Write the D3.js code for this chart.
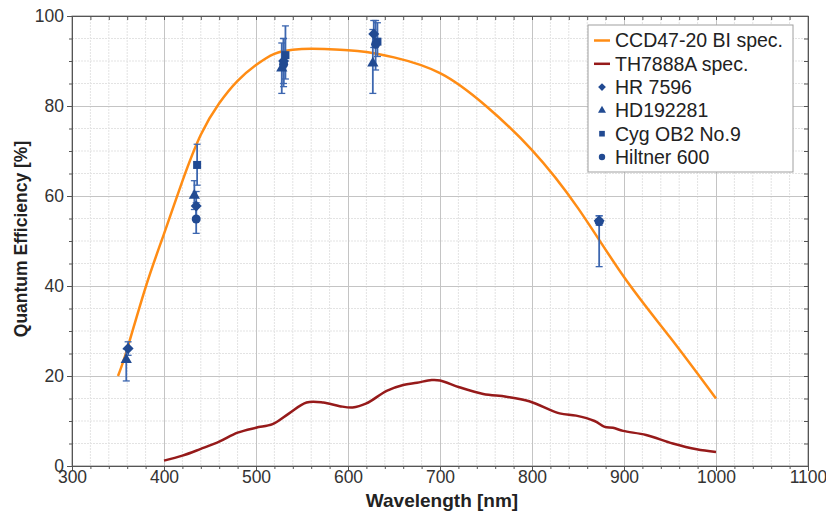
<!DOCTYPE html>
<html>
<head>
<meta charset="utf-8">
<script src="https://cdn.jsdelivr.net/npm/d3@7"></script>
<style>
  body { margin: 0; background: #fff; }
  svg { display: block; font-family: "Liberation Sans", Arial, sans-serif; }
</style>
</head>
<body>
<div id="chart"></div>
<script>
// CCD47-20 BI spectral response (nm, %)
const ccdWl = [350, 360, 380, 400, 420, 440, 460, 480, 500, 520, 540, 560, 580, 600, 620, 650, 700, 750, 800, 850, 900, 950, 1000];
const ccdQe = [20, 26, 39.7, 51.6, 63.3, 73.6, 80.6, 85.6, 89.1, 91.6, 92.5, 92.7, 92.6, 92.4, 92, 90.8, 87.3, 80, 70.2, 57.3, 42, 28.6, 15];

// TH7888A spectral response
const thWl = [400, 420, 440, 460, 480, 500, 518, 536, 555, 573, 591, 605, 620, 642, 660, 675, 691, 700, 721, 747, 772, 797, 830, 848, 868, 879, 888, 899, 924, 953, 979, 1000];
const thQe = [1.2, 2.3, 3.8, 5.4, 7.4, 8.5, 9.3, 11.7, 14.1, 14.1, 13.3, 13.0, 13.9, 16.7, 18.0, 18.5, 19.1, 19.0, 17.5, 16.0, 15.4, 14.4, 11.7, 11.2, 10.0, 8.7, 8.5, 7.8, 6.9, 5.0, 3.7, 3.1];

// measured stars: wavelength, QE, lower and upper error
const hrWl = [361, 435, 530, 628, 873];
const hrQe = [26.1, 57.8, 90.0, 96.0, 54.5];
const hrLo = [24.6, 54.8, 85.0, 93.0, 53.5];
const hrHi = [27.6, 61.0, 95.0, 99.0, 55.6];

const hdWl = [359, 433, 528, 627];
const hdQe = [23.6, 60.1, 88.4, 89.5];
const hdLo = [18.9, 57.0, 82.8, 82.8];
const hdHi = [26.0, 63.4, 94.0, 97.0];

const cygWl = [436, 532, 632];
const cygQe = [66.9, 91.3, 94.3];
const cygLo = [62.4, 86.0, 91.0];
const cygHi = [71.5, 97.8, 98.5];

const hilWl = [435, 530, 630, 873];
const hilQe = [54.9, 89.3, 93.7, 54.3];
const hilLo = [51.7, 84.3, 88.0, 44.3];
const hilHi = [58.5, 95.0, 99.0, 55.6];

const xTicks = [300, 400, 500, 600, 700, 800, 900, 1000, 1100];
const yTicks = [0, 20, 40, 60, 80, 100];

const W = 826, H = 514;
const margin = { top: 16, right: 18, bottom: 48, left: 72 };
const width = W - margin.left - margin.right;
const height = H - margin.top - margin.bottom;

const svg = d3.select("#chart").append("svg")
    .attr("width", W)
    .attr("height", H);

const chart = svg.append("g")
    .attr("transform", `translate(${margin.left},${margin.top})`);

const x = d3.scaleLinear().domain([300, 1100]).range([0, width]);
const y = d3.scaleLinear().domain([0, 100]).range([height, 0]);

// minor grid
chart.append("g")
    .selectAll("line")
    .data(d3.range(300, 1101, 20).filter(d => d % 100 !== 0))
    .join("line")
    .attr("x1", d => x(d)).attr("x2", d => x(d))
    .attr("y1", 0).attr("y2", height)
    .attr("stroke", "#e3e3e3")
    .attr("stroke-dasharray", "2,1");

chart.append("g")
    .selectAll("line")
    .data(d3.range(0, 101, 5).filter(d => d % 20 !== 0))
    .join("line")
    .attr("x1", 0).attr("x2", width)
    .attr("y1", d => y(d)).attr("y2", d => y(d))
    .attr("stroke", "#e3e3e3")
    .attr("stroke-dasharray", "2,1");

// major grid
chart.append("g")
    .call(d3.axisBottom(x).tickValues(xTicks).tickSize(height).tickFormat(""))
    .call(g => g.select(".domain").remove())
    .selectAll("line").attr("stroke", "#c4c4c4");

chart.append("g")
    .call(d3.axisLeft(y).tickValues(yTicks).tickSize(-width).tickFormat(""))
    .call(g => g.select(".domain").remove())
    .selectAll("line").attr("stroke", "#c4c4c4");

// frame
chart.append("rect")
    .attr("width", width).attr("height", height)
    .attr("fill", "none")
    .attr("stroke", "#8a8a8a");

// axes
const axisColor = "#555";
const styleAxis = g => {
    g.select(".domain").attr("stroke", axisColor);
    g.selectAll("line").attr("stroke", axisColor);
    g.selectAll("text").attr("fill", "#333").style("font-size", "17.5px");
};

chart.append("g")
    .attr("transform", `translate(0,${height})`)
    .call(d3.axisBottom(x).tickValues(d3.range(300, 1101, 20)).tickSize(3).tickFormat(""))
    .call(styleAxis);
chart.append("g")
    .attr("transform", `translate(0,${height})`)
    .call(d3.axisBottom(x).tickValues(xTicks).tickSize(5).tickPadding(0).tickFormat(d3.format("d")))
    .call(styleAxis);

chart.append("g")
    .call(d3.axisLeft(y).tickValues(d3.range(0, 101, 5)).tickSize(3).tickFormat(""))
    .call(styleAxis);
chart.append("g")
    .call(d3.axisLeft(y).tickValues(yTicks).tickSize(5).tickPadding(3))
    .call(styleAxis);

// inner ticks on top and right
chart.append("g")
    .call(d3.axisBottom(x).tickValues(d3.range(300, 1101, 20)).tickSize(4).tickFormat(""))
    .call(styleAxis);
chart.append("g")
    .attr("transform", `translate(${width},0)`)
    .call(d3.axisLeft(y).tickValues(d3.range(0, 101, 5)).tickSize(4).tickFormat(""))
    .call(styleAxis);

chart.append("text")
    .attr("x", width / 2 + 2)
    .attr("y", height + 41)
    .attr("text-anchor", "middle")
    .style("font-size", "19px")
    .style("font-weight", "bold")
    .attr("fill", "#222")
    .text("Wavelength [nm]");

chart.append("text")
    .attr("transform", "rotate(-90)")
    .attr("x", -height / 2 + 2)
    .attr("y", -45)
    .attr("text-anchor", "middle")
    .style("font-size", "17.5px")
    .style("font-weight", "bold")
    .attr("fill", "#222")
    .text("Quantum Efficiency [%]");

// curves
const line = d3.line()
    .x(d => x(d[0]))
    .y(d => y(d[1]))
    .curve(d3.curveNatural);

chart.append("path")
    .datum(d3.zip(thWl, thQe))
    .attr("d", line.curve(d3.curveCatmullRom))
    .attr("fill", "none")
    .attr("stroke", "#961a1a")
    .attr("stroke-width", 2.5);

chart.append("path")
    .datum(d3.zip(ccdWl, ccdQe))
    .attr("d", line.curve(d3.curveNatural))
    .attr("fill", "none")
    .attr("stroke", "#ff8c14")
    .attr("stroke-width", 2.5);

// stars
const markerColor = "#214a92";
const errColor = "#3d67b0";
const diamond = { draw(ctx, size) { const r = Math.sqrt(size / 2); ctx.moveTo(0, -r); ctx.lineTo(r, 0); ctx.lineTo(0, r); ctx.lineTo(-r, 0); ctx.closePath(); } };
const series = [
    { name: "HR 7596", sym: diamond, size: 60, wl: hrWl, qe: hrQe, lo: hrLo, hi: hrHi },
    { name: "HD192281", sym: d3.symbolTriangle, size: 55, wl: hdWl, qe: hdQe, lo: hdLo, hi: hdHi },
    { name: "Cyg OB2 No.9", sym: d3.symbolSquare, size: 64, wl: cygWl, qe: cygQe, lo: cygLo, hi: cygHi },
    { name: "Hiltner 600", sym: d3.symbolCircle, size: 64, wl: hilWl, qe: hilQe, lo: hilLo, hi: hilHi }
];

series.forEach(s => {
    const pts = s.wl.map((w, i) => ({ wl: w, qe: s.qe[i], lo: s.lo[i], hi: s.hi[i] }));
    const g = chart.append("g");
    g.selectAll("line.bar")
        .data(pts)
        .join("line")
        .attr("x1", d => x(d.wl)).attr("x2", d => x(d.wl))
        .attr("y1", d => y(d.lo)).attr("y2", d => y(d.hi))
        .attr("stroke", errColor)
        .attr("stroke-width", 1.8);
    ["lo", "hi"].forEach(k => {
        g.selectAll("line.cap-" + k)
            .data(pts)
            .join("line")
            .attr("x1", d => x(d.wl) - 3.5).attr("x2", d => x(d.wl) + 3.5)
            .attr("y1", d => y(d[k])).attr("y2", d => y(d[k]))
            .attr("stroke", errColor)
            .attr("stroke-width", 1.3);
    });
});

series.forEach(s => {
    chart.append("g")
        .selectAll("path")
        .data(s.wl.map((w, i) => [w, s.qe[i]]))
        .join("path")
        .attr("transform", d => `translate(${x(d[0])},${y(d[1])})`)
        .attr("d", d3.symbol().type(s.sym).size(s.size))
        .attr("fill", markerColor);
});

// legend
const legend = chart.append("g")
    .attr("transform", `translate(${588 - margin.left},${25 - margin.top})`);

legend.append("rect")
    .attr("width", 205)
    .attr("height", 147)
    .attr("fill", "#fff")
    .attr("stroke", "#a0a0a0");

const legendItems = [
    { name: "CCD47-20 BI spec.", color: "#ff8c14" },
    { name: "TH7888A spec.", color: "#961a1a" },
    ...series
];

const rowH = 23.3;
legendItems.forEach((d, i) => {
    const cy = 15.5 + i * rowH;
    if (d.sym) {
        legend.append("path")
            .attr("transform", `translate(14,${cy})`)
            .attr("d", d3.symbol().type(d.sym).size(d.size * 0.5))
            .attr("fill", markerColor);
    } else {
        legend.append("line")
            .attr("x1", 6).attr("x2", 22)
            .attr("y1", cy).attr("y2", cy)
            .attr("stroke", d.color)
            .attr("stroke-width", 2.5);
    }
    legend.append("text")
        .attr("x", 27)
        .attr("y", cy)
        .attr("dy", "0.35em")
        .style("font-size", "19.5px")
        .attr("fill", "#222")
        .text(d.name);
});
</script>
</body>
</html>
